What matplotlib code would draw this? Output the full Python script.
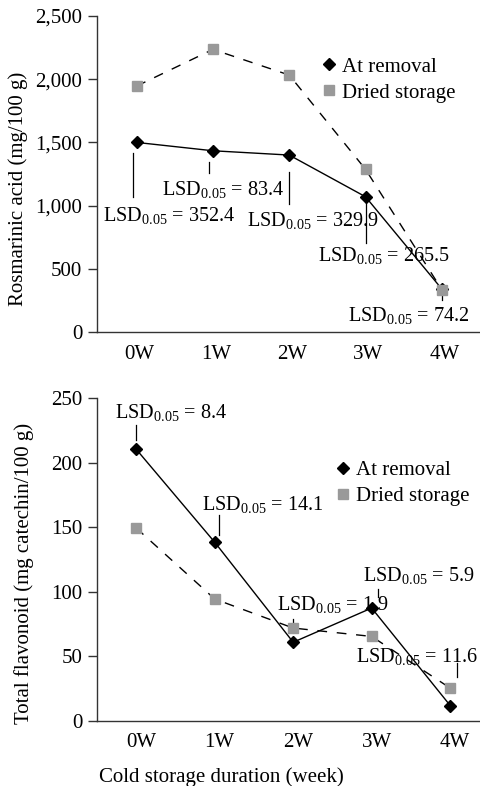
import matplotlib.pyplot as plt
from matplotlib.lines import Line2D
from matplotlib.transforms import ScaledTranslation

weeks = ["0W", "1W", "2W", "3W", "4W"]

# Rosmarinic acid (mg/100 g)
rosm_removal = [1500, 1434, 1400, 1070, 340]
rosm_dried = [1946, 2236, 2033, 1287, 335]
rosm_lsd = ["352.4", "83.4", "329.9", "265.5", "74.2"]

# Total flavonoid (mg catechin/100 g)
flav_removal = [210.5, 138.5, 61, 87.5, 12]
flav_dried = [149.5, 94.5, 72, 65.5, 25.5]
flav_lsd = ["8.4", "14.1", "1.9", "5.9", "11.6"]

# annotation layout: (line x, line y0, line y1, text x, text y)
rosm_marks = [
    (-0.05, 1413, 1070, -0.44, 918),
    (0.95, 1347, 1255, 0.33, 1131),
    (2.0, 1268, 1013, 1.45, 881),
    (3.0, 1044, 702, 2.38, 604),
    (4.0, 332, 253, 2.77, 132),
]
flav_marks = [
    (0.0, 229, 218, -0.27, 239),
    (1.06, 159.6, 144, 0.84, 167.7),
    (2.0, 78.8, 74.4, 1.80, 90.1),
    (3.08, 102, 96.3, 2.89, 112.5),
    (4.09, 45.2, 34.3, 2.80, 50.1),
]

GRAY = "#999999"
FS = 15

plt.rcParams["font.family"] = ["Liberation Serif", "DejaVu Serif"]
plt.rcParams["mathtext.fontset"] = "custom"
plt.rcParams["mathtext.rm"] = "Liberation Serif"
plt.rcParams["mathtext.it"] = "Liberation Serif:italic"


def draw(ax, removal, dried, lsd, marks, ymax, step, xlim, leg_pos, fmt,
         label_shift):
    x = list(range(len(weeks)))
    ax.plot(x, removal, color="black", lw=1.0, marker="D", ms=6,
            mfc="black", mec="black", zorder=3)
    ax.plot(x, dried, color="black", lw=1.0, ls=(0, (7, 7)), zorder=2)
    ax.plot(x, dried, ls="none", marker="s", ms=7.5, mfc=GRAY, mec=GRAY,
            zorder=4)

    for (lx, y0, y1, tx, ty), val in zip(marks, lsd):
        ax.plot([lx, lx], [y0, y1], color="black", lw=0.9)
        ax.text(tx, ty, r"$\mathrm{LSD}_{\mathrm{0.05}}$ = " + val,
                fontsize=14.6, ha="left", va="center")

    ax.set_xlim(*xlim)
    ax.set_ylim(0, ymax)
    ax.set_xticks(x)
    ax.set_xticklabels(weeks)
    ax.set_yticks(range(0, ymax + 1, step))
    ax.set_yticklabels([fmt.format(v) for v in range(0, ymax + 1, step)])
    ax.tick_params(axis="x", length=0, pad=9, labelsize=FS)
    ax.tick_params(axis="y", direction="out", length=6.5, width=1,
                   pad=4, labelsize=FS, color="#333333")
    shift = ScaledTranslation(label_shift / 100, 0, ax.figure.dpi_scale_trans)
    for lab in ax.get_xticklabels():
        lab.set_transform(lab.get_transform() + shift)
    for side in ("top", "right"):
        ax.spines[side].set_visible(False)
    for side in ("left", "bottom"):
        ax.spines[side].set_color("#333333")
        ax.spines[side].set_linewidth(1.0)

    handles = [
        Line2D([], [], ls="none", marker="D", ms=6, mfc="black", mec="black"),
        Line2D([], [], ls="none", marker="s", ms=7.5, mfc=GRAY, mec=GRAY),
    ]
    ax.legend(handles, ["At removal", "Dried storage"], loc="center left",
              bbox_to_anchor=leg_pos, frameon=False, fontsize=FS,
              handlelength=0.6, handletextpad=0.3, labelspacing=0.3,
              borderpad=0, borderaxespad=0)


fig = plt.figure(figsize=(4.8, 7.86), dpi=100)
ax1 = fig.add_axes([0.202, 0.5776, 0.798, 0.402])
ax2 = fig.add_axes([0.202, 0.0827, 0.798, 0.4106])

draw(ax1, rosm_removal, rosm_dried, rosm_lsd, rosm_marks, 2500, 500,
     (-0.52, 4.5), (0.59, 0.798), "{:,}", 3)
draw(ax2, flav_removal, flav_dried, flav_lsd, flav_marks, 250, 50,
     (-0.5, 4.38), (0.627, 0.737), "{}", 5)

fig.text(18 / 480, 1 - 189 / 786, "Rosmarinic acid (mg/100 g)",
         rotation=90, ha="center", va="center", fontsize=FS)
fig.text(24 / 480, 1 - 573 / 786, "Total flavonoid (mg catechin/100 g)",
         rotation=90, ha="center", va="center", fontsize=FS)
fig.text(221 / 480, 1 - 777 / 786, "Cold storage duration (week)",
         ha="center", va="center", fontsize=FS)

fig.savefig("out.png", dpi=100)
